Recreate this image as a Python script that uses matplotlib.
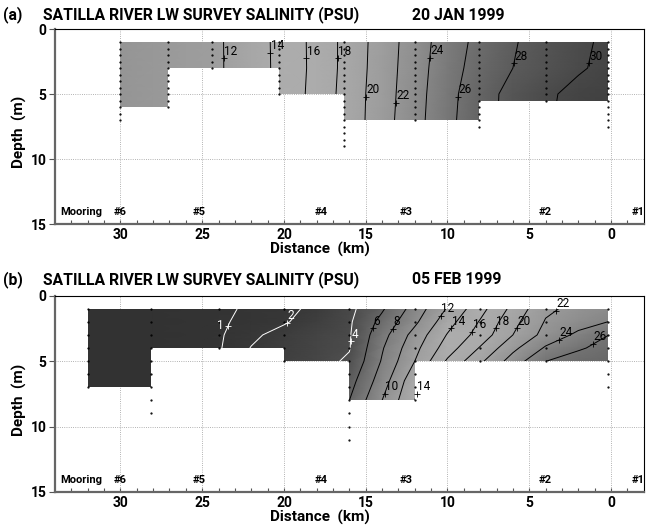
import numpy as np
import matplotlib
matplotlib.use('Agg')
import matplotlib.pyplot as plt
from matplotlib.colors import LinearSegmentedColormap, Normalize
from matplotlib.patches import Polygon

plt.rcParams['font.family'] = ['Roboto', 'DejaVu Sans']

# ---- panel (a): 20 Jan 1999 ----
stations_a = [30, 27.1, 24.4, 20.3, 16.3, 12, 8.1, 4, 0.2]
maxdepth_a = [7, 6, 3, 5, 9, 7, 7.5, 5.5, 7.5]
grid_x_a = [30, 28, 26, 24, 22, 20, 18, 16, 14, 12, 10, 8, 6, 4, 2, 0]
grid_d_a = [1, 3, 5, 7]
sal_a = [
    [10.6, 11.0, 11.4, 11.8, 13.1, 14.65, 16.63, 18.77, 20.92, 23.0, 24.98, 26.59, 27.85, 28.77, 29.65, 30.4],
    [10.6, 11.0, 11.4, 11.8, 13.05, 14.65, 16.6, 18.8, 21.0, 23.1, 25.2, 26.8, 28.0, 28.9, 29.8, 30.5],
    [10.6, 11.0, 11.4, 11.8, 13.0, 14.7, 16.7, 18.9, 21.1, 23.2, 25.4, 27.2, 28.6, 29.7, 30.5, 30.8],
    [10.6, 11.0, 11.4, 11.8, 13.0, 14.7, 16.7, 18.9, 21.2, 23.3, 25.5, 27.3, 28.6, 29.8, 30.6, 31.0],
]
levels_a = [12, 14, 16, 18, 20, 22, 24, 26, 28, 30]
# (level, depth of the label marker)
labels_a = [(12, 2.25), (14, 1.85), (16, 2.25), (18, 2.25), (20, 5.2),
            (22, 5.7), (24, 2.2), (26, 5.2), (28, 2.65), (30, 2.65)]

# ---- panel (b): 05 Feb 1999 ----
stations_b = [32, 28.1, 24, 20, 16, 12, 8, 4, 0.2]
maxdepth_b = [7, 9, 4, 5, 11, 8, 5, 5, 7]
grid_x_b = [32, 30, 28, 26, 24, 22, 20, 18, 16, 14, 12, 10, 8, 6, 4, 2, 0]
grid_d_b = [1, 2, 3, 4, 5, 6.5, 8]
sal_b = [
    [0.4, 0.45, 0.55, 0.65, 0.8, 1.15, 1.65, 2.33, 3.53, 5.76, 8.8, 12.18, 15.3, 18.57, 21.61, 22.59, 23.27],
    [0.4, 0.45, 0.55, 0.68, 0.85, 1.28, 1.85, 2.7, 3.75, 6.58, 9.59, 13.2, 16.17, 19.38, 22.15, 23.15, 24.1],
    [0.4, 0.45, 0.58, 0.7, 0.85, 1.73, 2.5, 3.18, 3.85, 7.27, 10.73, 14.13, 16.83, 20.0, 22.7, 24.43, 26.1],
    [0.4, 0.5, 0.6, 0.72, 0.88, 2.05, 2.63, 3.27, 3.9, 7.82, 11.4, 15.0, 18.17, 21.5, 24.24, 25.84, 26.5],
    [0.4, 0.5, 0.6, 0.75, 0.9, 2.1, 2.8, 3.4, 4.25, 8.17, 12.0, 16.29, 19.61, 22.89, 25.98, 26.6, 27.0],
    [0.4, 0.5, 0.6, 0.75, 0.9, 2.1, 2.8, 3.4, 5.2, 9.0, 13.4, 17.0, 20.5, 23.5, 26.5, 27.0, 27.3],
    [0.4, 0.5, 0.6, 0.75, 0.9, 2.1, 2.8, 3.6, 6.0, 10.0, 14.0, 17.5, 21.0, 24.0, 27.0, 27.2, 27.4],
]
levels_b = [1, 2, 4, 6, 8, 10, 12, 14, 16, 18, 20, 22, 24, 26]
labels_b = [(1, 2.3), (2, 2.1), (4, 3.5), (6, 2.5), (8, 2.55), (10, 7.5),
            (12, 1.55), (14, 2.5), (14, 7.5), (16, 2.75), (18, 2.5), (20, 2.5),
            (22, 1.15), (24, 3.4), (26, 3.7)]

moorings = ['#6', '#5', '#4', '#3', '#2', '#1']
mooring_km = [30.0, 25.2, 17.7, 12.5, 4.05, -1.65]

# grey scale: light in the middle of the salinity range, darker at both ends
cmap_sal = [0, 2, 4, 8, 11, 14, 18, 22, 26, 28, 31]
cmap_grey = [0.19, 0.22, 0.3, 0.5, 0.6, 0.68, 0.67, 0.6, 0.45, 0.36, 0.25]
cmap = LinearSegmentedColormap.from_list(
    'sal', [(s / 31.0, (g, g, g)) for s, g in zip(cmap_sal, cmap_grey)])
norm = Normalize(0, 31)


def domain_polygon(stations, maxdepth):
    pts = [(stations[0], 1), (stations[-1], 1)]
    for i in range(len(stations) - 2, -1, -1):
        b = min(maxdepth[i], maxdepth[i + 1])
        pts.append((stations[i + 1], b))
        pts.append((stations[i], b))
    return pts


def x_on_contour(cs, idx, depth):
    for seg in cs.allsegs[idx]:
        for i in range(len(seg) - 1):
            y0, y1 = seg[i, 1], seg[i + 1, 1]
            if y0 != y1 and (y0 - depth) * (y1 - depth) <= 0:
                t = (depth - y0) / (y1 - y0)
                return seg[i, 0] + t * (seg[i + 1, 0] - seg[i, 0])
    return None


def draw_panel(ax, stations, maxdepth, gx, gd, sal, levels, labels, dot_step):
    gx = np.array(gx)
    gd = np.array(gd)
    sal = np.array(sal)

    poly = Polygon(domain_polygon(stations, maxdepth), closed=True,
                   facecolor='none', edgecolor='none', transform=ax.transData)
    ax.add_patch(poly)

    mesh = ax.pcolormesh(gx, gd, sal, shading='gouraud', cmap=cmap, norm=norm, zorder=2)
    mesh.set_clip_path(poly)

    line_cols = ['white' if lv <= 4 else 'black' for lv in levels]
    cs = ax.contour(gx, gd, sal, levels=levels, colors=line_cols, linewidths=0.7, zorder=3)
    cs.set_clip_path(poly)

    for lv, dep in labels:
        idx = levels.index(lv)
        x = x_on_contour(cs, idx, dep)
        if x is None:
            continue
        col = line_cols[idx]
        ax.plot(x, dep, marker='+', color=col, ms=5, mew=0.6, zorder=4)
        if lv == 1:
            ax.annotate(str(lv), (x, dep), xytext=(-3, 0), textcoords='offset points',
                        ha='right', va='center', fontsize=8.5, color=col, zorder=5)
        else:
            ax.annotate(str(lv), (x, dep), xytext=(0.5, 0.5), textcoords='offset points',
                        ha='left', va='bottom', fontsize=8.5, color=col, zorder=5)

    # sample points
    for st, md in zip(stations, maxdepth):
        dd = np.arange(1, md + 0.01, dot_step)
        ax.plot(np.full(len(dd), st), dd, ls='none', marker='.', ms=1.2,
                color='black', zorder=4)

    ax.text(32.4, 14.05, 'Mooring', ha='center', va='center', fontsize=8, fontweight='bold')
    for name, km in zip(moorings, mooring_km):
        ax.text(km, 14.05, name, ha='center', va='center', fontsize=8, fontweight='bold')

    ax.set_xlim(34, -2)
    ax.set_ylim(15, 0)
    ax.set_xticks([30, 25, 20, 15, 10, 5, 0])
    ax.set_xticks(np.arange(-1, 34, 1), minor=True)
    ax.set_yticks([0, 5, 10, 15])
    ax.tick_params(axis='x', which='both', direction='in', length=3, width=0.8,
                   color='#555555', pad=3, labelsize=10)
    ax.tick_params(axis='y', which='major', direction='out', length=4, width=0.8,
                   color='#555555', pad=2, labelsize=10)
    for lab in ax.get_xticklabels() + ax.get_yticklabels():
        lab.set_fontweight('bold')
    ax.grid(True, which='major', ls=':', lw=0.6, color='#999999', zorder=0)
    ax.set_axisbelow(True)
    for side in ['left', 'bottom']:
        ax.spines[side].set_color('#666666')
        ax.spines[side].set_linewidth(1.6)
    for side in ['top', 'right']:
        ax.spines[side].set_color('black')
        ax.spines[side].set_linewidth(0.8)
    ax.set_xlabel('Distance  (km)', fontsize=11, fontweight='bold')
    ax.set_ylabel('Depth  (m)', fontsize=11, fontweight='bold')
    ax.xaxis.set_label_coords(0.45, -0.09)
    ax.yaxis.set_label_coords(-0.048, 0.47)


fig = plt.figure(figsize=(6.48, 5.25), dpi=100)
ax_a = fig.add_axes([0.0849, 0.5733, 0.9085, 0.3714])
ax_b = fig.add_axes([0.0849, 0.0629, 0.9085, 0.3739])

draw_panel(ax_a, stations_a, maxdepth_a, grid_x_a, grid_d_a, sal_a, levels_a, labels_a, 0.5)
draw_panel(ax_b, stations_b, maxdepth_b, grid_x_b, grid_d_b, sal_b, levels_b, labels_b, 1.0)

title_kw = dict(fontsize=11.3, fontweight='bold', va='center', ha='left')
fig.text(3 / 648, 1 - 15 / 525, '(a)', **title_kw)
fig.text(43 / 648, 1 - 15 / 525, 'SATILLA RIVER LW SURVEY SALINITY (PSU)', **title_kw)
fig.text(412 / 648, 1 - 15 / 525, '20 JAN 1999', **title_kw)
fig.text(3 / 648, 1 - 280 / 525, '(b)', **title_kw)
fig.text(43 / 648, 1 - 280 / 525, 'SATILLA RIVER LW SURVEY SALINITY (PSU)', **title_kw)
fig.text(412 / 648, 1 - 280 / 525, '05 FEB 1999', **title_kw)

fig.savefig('out.png', dpi=100)
